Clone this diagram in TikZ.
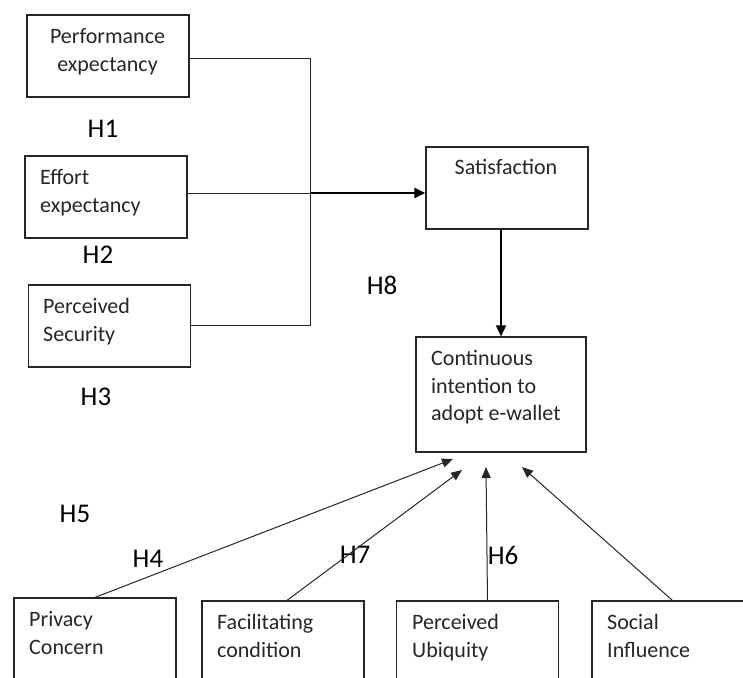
\documentclass[tikz,border=0pt]{standalone}
\usepackage{fontspec}
\setmainfont{Carlito}
\usetikzlibrary{arrows.meta,calc}
\begin{document}
\begin{tikzpicture}[x=1pt,y=-1pt,
  box/.style={draw=black!85,line width=1.2pt,minimum width=162pt,minimum height=82pt,inner sep=0pt},
  txt/.style={font=\fontsize{22}{27.5}\selectfont,align=left,inner sep=0pt,anchor=north west,text=black!85},
  hyp/.style={font=\fontsize{27}{30}\selectfont,inner sep=0pt},
  con/.style={line width=1pt,draw=black!85},
  arr/.style={con,-{Triangle[length=11pt,width=9pt]}}]
\useasboundingbox (0,0) rectangle (743,677);
\clip (0,0) rectangle (743,677);
% boxes
\node[box] (perf) at (108,56) {};
\node[box] (eff) at (106,197) {};
\node[box] (sec) at (109.5,326) {};
\node[box] (sat) at (507,188) {};
\node[box,minimum width=170pt,minimum height=115pt] (cont) at (501,394.5) {};
\node[box,minimum height=110pt] (priv) at (95,653) {};
\node[box,minimum height=110pt] (fac) at (283,656) {};
\node[box,minimum height=110pt] (ubi) at (477.5,656) {};
\node[box,minimum height=110pt] (soc) at (673,656) {};
% box texts
\node[txt,align=center,anchor=north] (perfT) at (107.5,28.5) {Performance\\expectancy};
\node[txt] (effT) at (40,169.5) {Effort\\expectancy};
\node[txt] (secT) at (43,298.5) {Perceived\\Security};
\node[txt,anchor=north] (satT) at (506,159.5) {Satisfaction};
\node[txt] (contT) at (431,350.5) {Continuous\\intention to\\adopt e-wallet};
\node[txt] (privT) at (29,611.5) {Privacy\\Concern};
\node[txt] (facT) at (217,614.5) {Facilitating\\condition};
\node[txt] (ubiT) at (412,614.5) {Perceived\\Ubiquity};
\node[txt] (socT) at (607,614.5) {Social\\Influence};
% hypothesis labels
\node[hyp] (h1) at (103,129) {H1};
\node[hyp] (h2) at (98,255) {H2};
\node[hyp] (h3) at (96,397) {H3};
\node[hyp] (h8) at (382,285) {H8};
\node[hyp] (h5) at (75,514) {H5};
\node[hyp] (h4) at (148,559) {H4};
\node[hyp] (h7) at (355,555) {H7};
\node[hyp] (h6) at (503,555) {H6};
% connectors
\coordinate (jn) at (310,193);
\draw[con] ([yshift=-2pt]perf.east) -| (jn);
\draw[con] ([yshift=1pt]sec.east) -| (jn);
\draw[con] (eff.east |- jn) -- (jn);
\draw[line width=2.6pt,-{Triangle[length=11pt,width=10pt]}] (jn) -- (sat.west |- jn);
\draw[line width=1.6pt,-{Triangle[length=11pt,width=10pt]}] (sat.south -| cont.north) -- (cont.north);
\coordinate (t1) at (453,459);
\coordinate (t2) at (462,470);
\coordinate (t3) at (486,467);
\coordinate (t4) at (522,467);
\draw[arr] (priv.north) -- (t1);
\draw[arr] ([xshift=4pt]fac.north) -- (t2);
\draw[arr] ([xshift=10pt]ubi.north) -- (t3);
\draw[arr] ([xshift=81pt]soc.north west) -- (t4);
\end{tikzpicture}
\end{document}
